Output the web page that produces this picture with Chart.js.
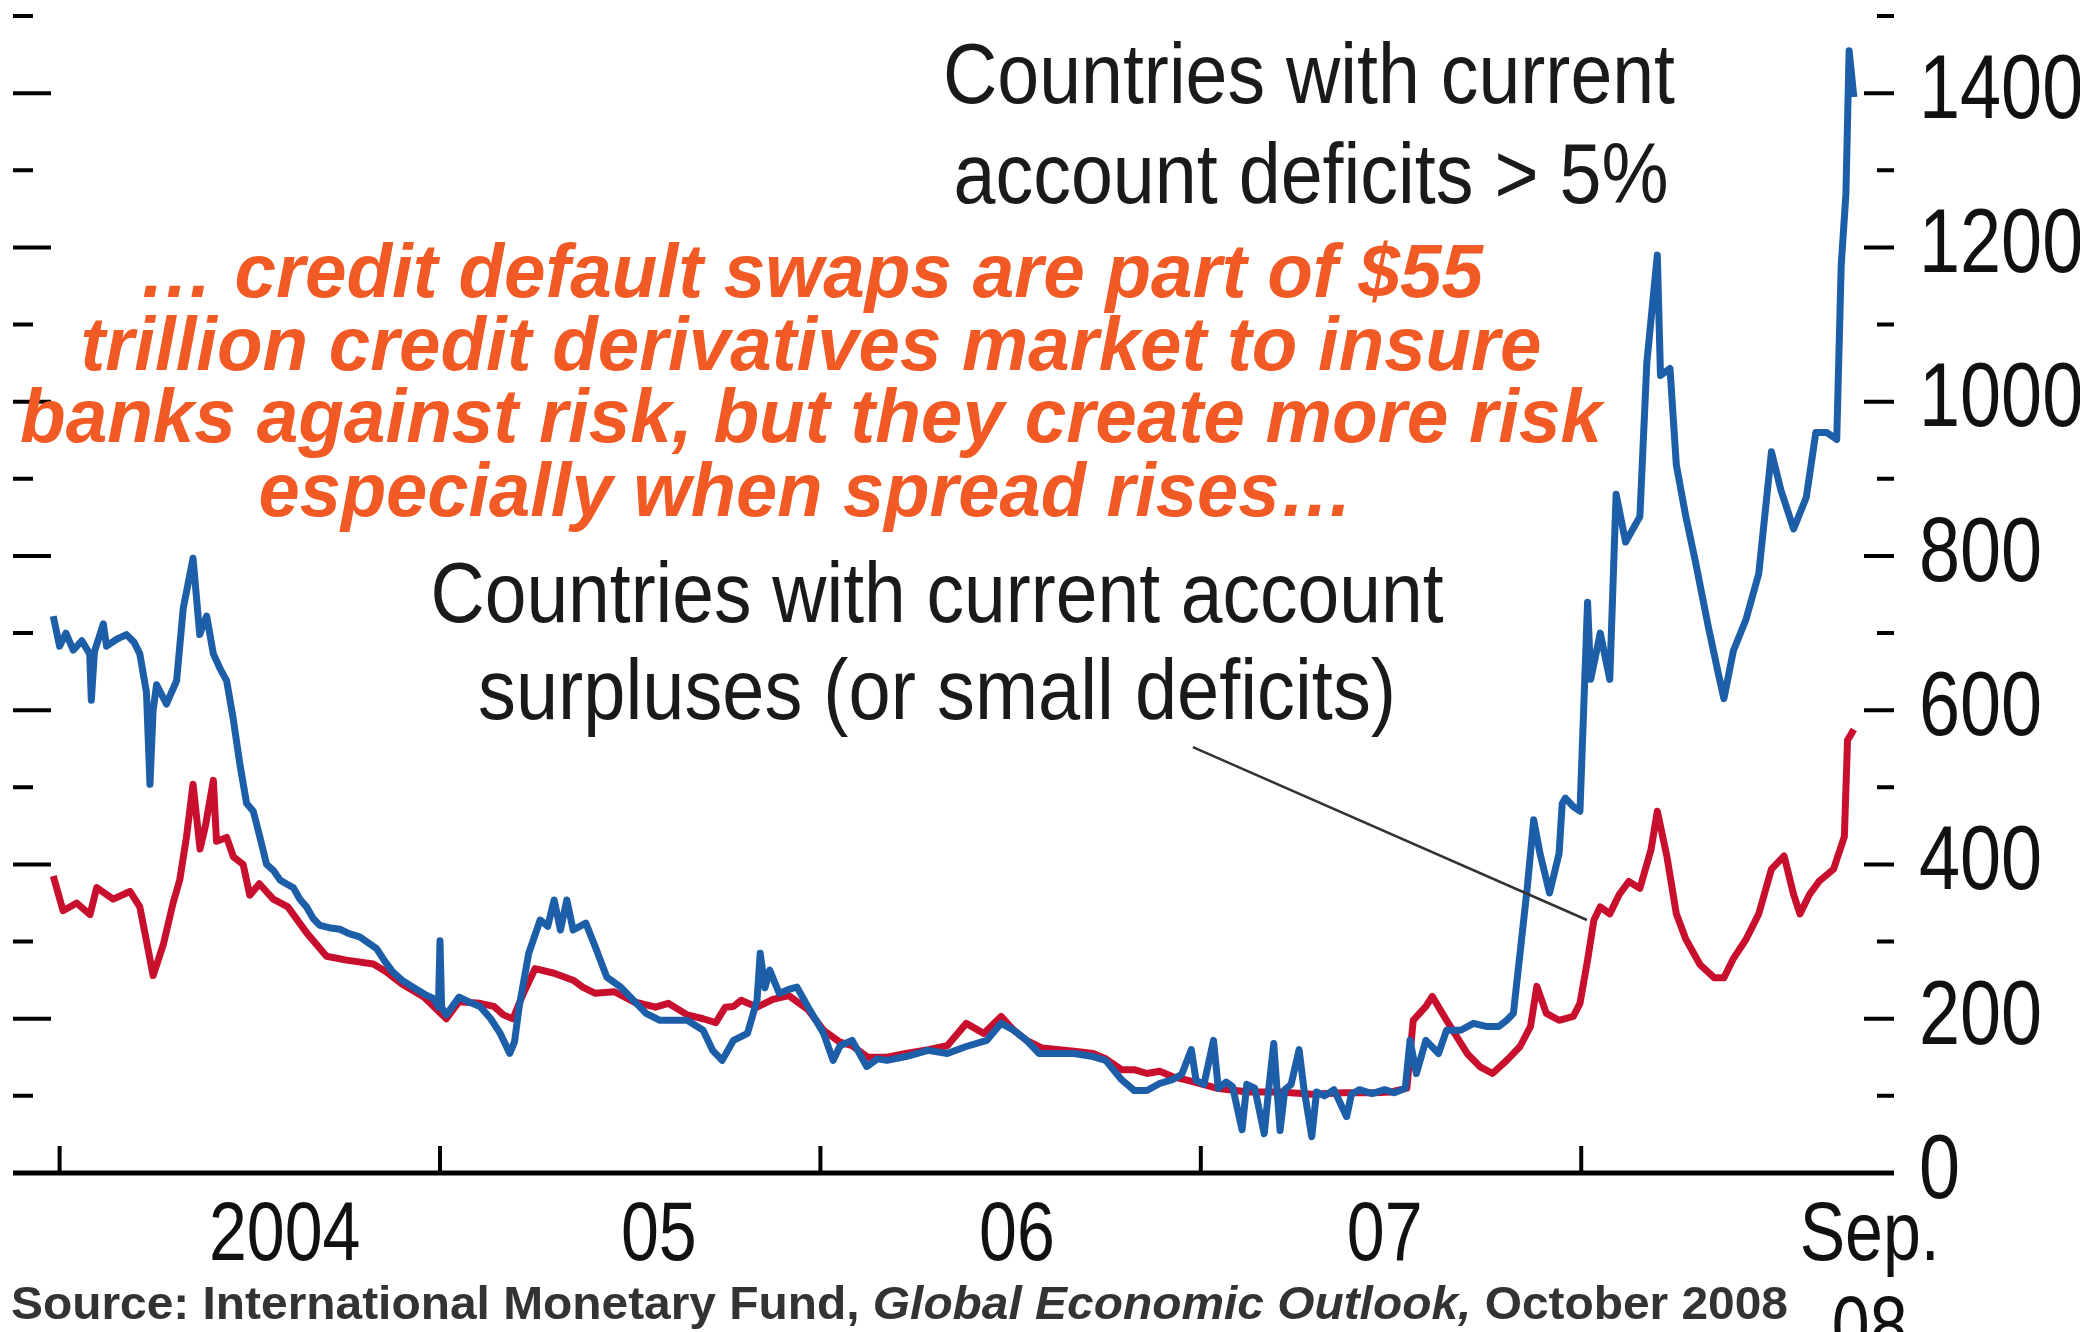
<!DOCTYPE html>
<html>
<head>
<meta charset="utf-8">
<script src="https://cdn.jsdelivr.net/npm/chart.js@4.4.1/dist/chart.umd.min.js"></script>
<style>
  html, body { margin: 0; padding: 0; background: #fff; }
  #wrap { width: 2080px; height: 1332px; position: relative; }
</style>
</head>
<body>
<div id="wrap"><canvas id="cds" width="2080" height="1332"></canvas></div>
<script>
// x values are months counted from Jan 2004
const blueMonths = [-0.2, 0.0, 0.2, 0.43, 0.7, 0.95, 1.0, 1.1, 1.38, 1.48, 1.8, 2.11, 2.35, 2.53, 2.74, 2.85, 2.95, 3.06, 3.37, 3.69,
  3.9, 4.21, 4.42, 4.64, 4.85, 5.05, 5.27, 5.48, 5.69, 5.9, 6.11, 6.32, 6.53, 6.75, 6.95, 7.15, 7.37, 7.58, 7.79, 8.0,
  8.21, 8.5, 8.84, 9.15, 9.47, 9.75, 10.0, 10.25, 10.5, 10.8, 11.15, 11.5, 11.8, 11.95, 12.0, 12.05, 12.2, 12.6, 12.9, 13.26,
  13.6, 13.9, 14.2, 14.35, 14.5, 14.8, 15.16, 15.4, 15.6, 15.8, 16.0, 16.2, 16.6, 16.9, 17.26, 17.7, 18.1, 18.5, 18.94, 19.36,
  19.8, 20.3, 20.6, 20.9, 21.26, 21.7, 22.0, 22.1, 22.25, 22.4, 22.7, 23.0, 23.26, 23.6, 24.1, 24.4, 24.62, 25.0, 25.46, 25.8,
  26.1, 26.7, 27.4, 28.0, 28.6, 29.25, 29.7, 30.1, 30.5, 30.9, 31.35, 32.0, 32.6, 33.0, 33.5, 33.9, 34.3, 34.7, 35.1, 35.4,
  35.7, 35.85, 36.1, 36.4, 36.55, 36.8, 37.0, 37.3, 37.45, 37.7, 38.0, 38.15, 38.3, 38.4, 38.5, 38.65, 38.85, 39.1, 39.25, 39.5,
  39.65, 39.9, 40.2, 40.6, 40.75, 41.0, 41.4, 41.8, 42.1, 42.45, 42.6, 42.8, 43.1, 43.5, 43.75, 44.2, 44.6, 45.0, 45.4, 45.65,
  45.86, 46.07, 46.3, 46.5, 46.7, 47.0, 47.3, 47.4, 47.5, 47.75, 47.96, 48.2, 48.3, 48.6, 48.9, 49.1, 49.4, 49.85, 50.07, 50.4,
  50.5, 50.8, 51.0, 51.3, 51.6, 52.0, 52.3, 52.5, 52.8, 53.2, 53.6, 54.0, 54.3, 54.7, 55.1, 55.4, 55.75, 56.06, 56.2, 56.35,
  56.45, 56.6];
const blueValues = [722, 683, 700, 678, 690, 673, 613, 676, 712, 683, 692, 698, 688, 673, 623, 504, 600, 633, 608, 638,
  732, 797, 698, 722, 673, 655, 638, 588, 529, 479, 469, 435, 400, 392, 380, 375, 370, 355, 345, 330,
  321, 318, 316, 310, 306, 298, 291, 275, 261, 250, 241, 232, 226, 215, 301, 215, 205, 228, 222, 216,
  200, 181, 155, 170, 216, 285, 328, 320, 354, 315, 354, 315, 324, 293, 254, 241, 224, 207, 198, 198,
  198, 185, 159, 146, 172, 181, 224, 285, 240, 263, 233, 238, 241, 216, 181, 146, 165, 172, 138, 148,
  146, 151, 159, 155, 164, 172, 194, 185, 172, 155, 155, 155, 151, 146, 121, 107, 107, 116, 121, 128,
  160, 120, 115, 172, 110, 118, 112, 56, 115, 110, 51, 112, 168, 110, 55, 108, 115, 160, 110, 47,
  105, 100, 108, 73, 102, 108, 103, 108, 104, 110, 172, 129, 172, 155, 185, 185, 194, 190, 190, 198,
  207, 285, 371, 458, 414, 363, 414, 479, 486, 475, 469, 740, 640, 700, 640, 880, 818, 851, 1051, 1190,
  1034, 1043, 918, 851, 793, 710, 652, 615, 677, 718, 777, 935, 885, 835, 876, 960, 960, 951, 1176, 1270,
  1455, 1395];

const redMonths = [-0.2, 0.11, 0.54, 0.96, 1.17, 1.69, 2.22, 2.53, 2.74, 2.95, 3.27, 3.58, 3.79, 4.0, 4.21, 4.43, 4.6, 4.85, 4.95, 5.27,
  5.48, 5.79, 6.0, 6.3, 6.74, 7.2, 7.8, 8.42, 9.05, 9.9, 10.3, 10.8, 11.5, 12.2, 12.6, 13.26, 13.7, 14.0, 14.3, 14.6,
  15.0, 15.6, 16.2, 16.5, 16.9, 17.5, 18.1, 18.8, 19.2, 19.8, 20.3, 20.7, 21.0, 21.26, 21.5, 22.0, 22.5, 23.0, 23.6, 24.1,
  24.6, 25.0, 25.5, 26.1, 26.7, 27.4, 28.0, 28.6, 29.15, 29.7, 30.1, 30.5, 31.0, 32.0, 32.6, 33.0, 33.5, 33.9, 34.3, 34.7,
  35.1, 35.6, 36.5, 37.5, 38.5, 39.5, 40.5, 41.5, 42.0, 42.5, 42.7, 43.1, 43.3, 43.75, 44.4, 44.8, 45.2, 45.65, 46.07, 46.4,
  46.6, 46.9, 47.3, 47.75, 47.96, 48.2, 48.4, 48.6, 48.9, 49.2, 49.5, 49.85, 50.2, 50.4, 50.7, 51.0, 51.3, 51.75, 52.2, 52.5,
  52.8, 53.2, 53.6, 54.0, 54.4, 54.7, 54.9, 55.2, 55.5, 55.96, 56.3, 56.4, 56.6];
const redValues = [385, 340, 350, 335, 370, 355, 365, 345, 301, 256, 296, 350, 380, 435, 504, 420, 450, 509, 430, 435,
  410, 400, 360, 375, 355, 345, 311, 281, 276, 271, 261, 245, 228, 200, 222, 220, 216, 205, 200, 230,
  265, 259, 250, 241, 233, 235, 222, 215, 220, 205, 200, 195, 215, 216, 224, 215, 225, 230, 212, 185,
  170, 165, 150, 150, 155, 160, 165, 194, 181, 203, 185, 172, 162, 158, 155, 148, 134, 134, 129, 132,
  125, 120, 110, 105, 105, 102, 104, 104, 105, 110, 198, 216, 229, 198, 155, 138, 129, 146, 164, 190,
  242, 207, 198, 203, 220, 276, 328, 345, 336, 361, 378, 369, 419, 469, 411, 336, 303, 270, 253, 253,
  278, 303, 336, 394, 411, 361, 336, 361, 378, 394, 436, 561, 575];

const xLabelMonths = [7.1, 18.9, 30.2, 41.8, 57.1];
const xLabels = ['2004', '05', '06', '07', ['Sep.', '08']];
const yearStartMonths = [0, 12, 24, 36, 48];
const yLabelValues = [0, 200, 400, 600, 800, 1000, 1200, 1400];
const yMinorValues = [100, 300, 500, 700, 900, 1100, 1300, 1500];
// leader from the "surpluses" note to the red line, in (month, value)
const leaderLine = [[35.75, 552], [48.18, 328]];

const X_MIN = -1.47;
const X_MAX = 57.74;
const SANS = "'Liberation Sans', Arial, Helvetica, sans-serif";
const LABEL_SQUEEZE = 0.82; // the tick labels are set in a narrow face

const notes = [
  { parts: [{ text: 'Countries with current', font: '86px ' + SANS, color: '#1a1a1a' }], x: 1309, y: 103, w: 732 },
  { parts: [{ text: 'account deficits > 5%', font: '86px ' + SANS, color: '#1a1a1a' }], x: 1311, y: 203, w: 715 },
  { parts: [{ text: 'Countries with current account', font: '86px ' + SANS, color: '#1a1a1a' }], x: 937, y: 622, w: 1013 },
  { parts: [{ text: 'surpluses (or small deficits)', font: '86px ' + SANS, color: '#1a1a1a' }], x: 937, y: 719, w: 918 },
  { parts: [{ text: '\u2026 credit default swaps are part of $55', font: 'italic bold 76px ' + SANS, color: '#f15a24' }], x: 811, y: 297, w: 1344 },
  { parts: [{ text: 'trillion credit derivatives market to insure', font: 'italic bold 76px ' + SANS, color: '#f15a24' }], x: 811, y: 370, w: 1461 },
  { parts: [{ text: 'banks against risk, but they create more risk', font: 'italic bold 76px ' + SANS, color: '#f15a24' }], x: 811, y: 442, w: 1582 },
  { parts: [{ text: 'especially when spread rises\u2026', font: 'italic bold 76px ' + SANS, color: '#f15a24' }], x: 806, y: 516, w: 1095 },
  { parts: [
      { text: 'Source: International Monetary Fund, ', font: 'bold 46px ' + SANS, color: '#333' },
      { text: 'Global Economic Outlook,', font: 'italic bold 46px ' + SANS, color: '#333' },
      { text: ' October 2008', font: 'bold 46px ' + SANS, color: '#333' }
    ], x: 11, y: 1319, w: 1777, left: true }
];

function fitText(ctx, note) {
    let natural = 0;
    note.parts.forEach(p => {
        ctx.font = p.font;
        p.w = ctx.measureText(p.text).width;
        natural += p.w;
    });
    const sx = note.w / natural;
    const left = note.left ? note.x : note.x - note.w / 2;
    ctx.save();
    ctx.translate(left, note.y);
    ctx.scale(sx, 1);
    ctx.textAlign = 'left';
    ctx.textBaseline = 'alphabetic';
    let cx = 0;
    note.parts.forEach(p => {
        ctx.font = p.font;
        ctx.fillStyle = p.color;
        ctx.fillText(p.text, cx, 0);
        cx += p.w;
    });
    ctx.restore();
}

// same as Chart.js drawLabels, but squeezes each label horizontally around its anchor
function narrowLabels(chartArea) {
    const ctx = this.ctx;
    this.getLabelItems(chartArea).forEach(item => {
        const o = item.options;
        ctx.save();
        ctx.translate(o.translation[0], o.translation[1]);
        ctx.scale(LABEL_SQUEEZE, 1);
        Chart.helpers.renderText(ctx, item.label, 0, item.textOffset, item.font,
            Object.assign({}, o, { translation: null }));
        ctx.restore();
    });
}

const decor = {
    id: 'decor',
    beforeDatasetsDraw(chart) {
        const { ctx, chartArea: a, scales: { x, y } } = chart;
        ctx.save();
        ctx.strokeStyle = '#000';
        ctx.lineCap = 'butt';
        ctx.lineWidth = 4;
        // tick marks on both vertical sides, pointing inwards
        yLabelValues.concat(yMinorValues).forEach(v => {
            if (v === 0) return;
            const major = v % 200 === 0;
            const py = y.getPixelForValue(v);
            ctx.beginPath();
            ctx.moveTo(a.left, py);
            ctx.lineTo(a.left + (major ? 38 : 20), py);
            ctx.moveTo(a.right + 4, py);
            ctx.lineTo(a.right + 4 - (major ? 30 : 17), py);
            ctx.stroke();
        });
        // year ticks
        const base = y.getPixelForValue(0);
        yearStartMonths.forEach(m => {
            const px = x.getPixelForValue(m);
            ctx.beginPath();
            ctx.moveTo(px, base);
            ctx.lineTo(px, base - 27);
            ctx.stroke();
        });
        // baseline
        ctx.lineWidth = 5;
        ctx.beginPath();
        ctx.moveTo(a.left, base);
        ctx.lineTo(a.right + 4, base);
        ctx.stroke();
        ctx.restore();
    },
    afterDatasetsDraw(chart) {
        const { ctx, scales: { x, y } } = chart;
        ctx.save();
        ctx.strokeStyle = '#333';
        ctx.lineWidth = 2.5;
        ctx.beginPath();
        ctx.moveTo(x.getPixelForValue(leaderLine[0][0]), y.getPixelForValue(leaderLine[0][1]));
        ctx.lineTo(x.getPixelForValue(leaderLine[1][0]), y.getPixelForValue(leaderLine[1][1]));
        ctx.stroke();
        ctx.restore();
        notes.forEach(n => fitText(ctx, n));
    }
};

const bluePoints = blueMonths.map((m, i) => ({ x: m, y: blueValues[i] }));
const redPoints = redMonths.map((m, i) => ({ x: m, y: redValues[i] }));

new Chart(document.getElementById('cds'), {
    type: 'line',
    data: {
        datasets: [{
            label: 'Countries with current account deficits > 5%',
            data: bluePoints,
            borderColor: '#1d5ea8',
            borderWidth: 7,
            borderJoinStyle: 'round',
            pointRadius: 0,
            tension: 0,
            order: 1
        }, {
            label: 'Countries with current account surpluses (or small deficits)',
            data: redPoints,
            borderColor: '#c8102e',
            borderWidth: 7,
            borderJoinStyle: 'round',
            pointRadius: 0,
            tension: 0,
            order: 2
        }]
    },
    options: {
        responsive: false,
        animation: false,
        devicePixelRatio: 1,
        layout: { padding: { left: 13, top: 16, right: 0, bottom: 0 } },
        plugins: {
            legend: { display: false },
            tooltip: { enabled: false }
        },
        scales: {
            x: {
                type: 'linear',
                min: X_MIN,
                max: X_MAX,
                grid: { display: false, drawTicks: false },
                border: { display: false },
                afterBuildTicks: s => { s.ticks = xLabelMonths.map(v => ({ value: v })); },
                afterFit: s => {
                    s.height = 159;
                    s.paddingLeft = 0;
                    s.paddingRight = 0;
                    s.drawLabels = narrowLabels;
                },
                ticks: {
                    autoSkip: false,
                    maxRotation: 0,
                    minRotation: 0,
                    padding: 17,
                    color: '#111',
                    font: { family: SANS, size: 83, lineHeight: 1.13 },
                    callback: (v, i) => xLabels[i]
                }
            },
            y: {
                position: 'right',
                min: 0,
                max: 1500,
                grid: { display: false, drawTicks: false },
                border: { display: false },
                afterBuildTicks: s => { s.ticks = yLabelValues.map(v => ({ value: v })); },
                afterFit: s => {
                    s.width = 190;
                    s.paddingTop = 0;
                    s.paddingBottom = 0;
                    s.drawLabels = narrowLabels;
                },
                ticks: {
                    padding: 29,
                    color: '#111',
                    font: { family: SANS, size: 90 },
                    callback: v => String(v)
                }
            }
        }
    },
    plugins: [decor]
});
</script>
</body>
</html>
